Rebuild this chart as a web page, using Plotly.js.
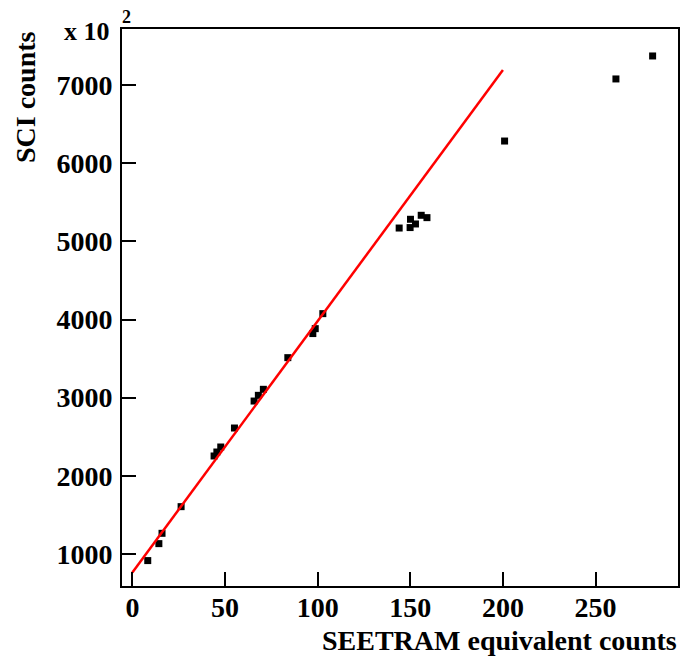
<!DOCTYPE html>
<html>
<head>
<meta charset="utf-8">
<script src="https://cdn.plot.ly/plotly-3.0.1.min.js"></script>
<style>html,body{margin:0;padding:0;background:#fff;}#chart{width:680px;height:661px;}</style>
</head>
<body>
<div id="chart"></div>
<script>
// Data
const seetram = [8.3, 14.3, 16.0, 26.3, 44.1, 45.6, 47.7, 55.1, 65.7, 68.0, 70.7, 83.9, 97.4, 98.7, 102.8,
                 144.0, 150.1, 149.9, 152.8, 155.9, 159.0, 200.9, 261.0, 280.8];
const sci = [916, 1133, 1265, 1606, 2254, 2305, 2369, 2612, 2957, 3030, 3107, 3512, 3820, 3883, 4075,
             5170, 5282, 5176, 5222, 5333, 5303, 6283, 7077, 7371];
const fitX = [0, 200];
const fitY = [765, 7193];
const xTicks = [0, 50, 100, 150, 200, 250];
const yTicks = [1000, 2000, 3000, 4000, 5000, 6000, 7000];

const F = 'Liberation Serif, Times New Roman, serif';

const traces = [
  {x: seetram, y: sci, type: 'scatter', mode: 'markers',
   marker: {symbol: 'square', size: 7, color: '#000'}, cliponaxis: false},
  {x: fitX, y: fitY, type: 'scatter', mode: 'lines',
   line: {color: '#ff0000', width: 2.5}}
];

const axisCommon = {
  showline: true, linecolor: '#000', linewidth: 2, mirror: true,
  ticks: 'inside', ticklen: 14, tickwidth: 2, tickcolor: '#000',
  showgrid: false, zeroline: false,
  tickfont: {family: F, size: 28, color: '#000', weight: 'bold'}
};

const layout = {
  width: 680, height: 661,
  margin: {l: 122, r: 2, t: 29, b: 75},
  paper_bgcolor: '#fff', plot_bgcolor: '#fff',
  showlegend: false,
  xaxis: Object.assign({}, axisCommon, {
    range: [-5.6, 294.5], tickvals: xTicks, ticktext: xTicks.map(String),
    ticklabelstandoff: -5
  }),
  yaxis: Object.assign({}, axisCommon, {
    range: [591, 7716], tickvals: yTicks, ticktext: yTicks.map(String),
    ticklabelstandoff: 2
  }),
  annotations: [
    {text: 'SEETRAM equivalent counts', xref: 'paper', yref: 'paper', x: 1, y: 0,
     xanchor: 'right', yanchor: 'middle', yshift: -54, xshift: 1, showarrow: false,
     font: {family: F, size: 28, color: '#000', weight: 'bold'}},
    {text: 'SCI counts', xref: 'paper', yref: 'paper', x: 0, y: 1,
     xanchor: 'center', yanchor: 'top', xshift: -97, yshift: 0, textangle: -90, showarrow: false,
     font: {family: F, size: 28, color: '#000', weight: 'bold'}},
    {text: 'x 10', xref: 'paper', yref: 'paper', x: 0, y: 1,
     xanchor: 'right', yanchor: 'middle', xshift: -10, yshift: -2, showarrow: false,
     font: {family: F, size: 26, color: '#000', weight: 'bold'}},
    {text: '2', xref: 'paper', yref: 'paper', x: 0, y: 1,
     xanchor: 'center', yanchor: 'middle', xshift: 4, yshift: 12, showarrow: false,
     font: {family: F, size: 18, color: '#000', weight: 'bold'}}
  ]
};

Plotly.newPlot('chart', traces, layout, {displayModeBar: false, staticPlot: true});
</script>
</body>
</html>
